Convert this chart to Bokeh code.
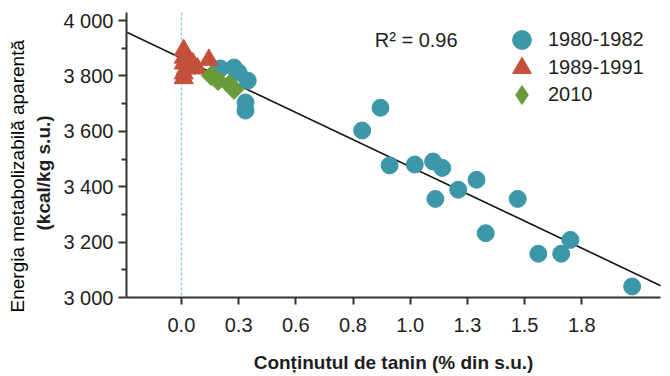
import numpy as np
from bokeh.plotting import figure
from bokeh.models import (Range1d, FixedTicker, Span, Slope, Label, Legend,
                          LegendItem, Title)
from bokeh.embed import file_html
from bokeh.resources import INLINE

# ---------------- data ----------------
tannin_1980 = [0.17, 0.23, 0.25, 0.29, 0.28, 0.28, 0.79, 0.87, 0.91, 1.02, 1.10,
               1.14, 1.11, 1.21, 1.29, 1.47, 1.33, 1.56, 1.66, 1.70, 1.97]
ame_1980 = [3827, 3830, 3812, 3783, 3704, 3675, 3603, 3685, 3477, 3480, 3491,
            3468, 3356, 3389, 3425, 3356, 3232, 3158, 3158, 3208, 3040]

tannin_1989 = [0.01, 0.01, 0.01, 0.02, 0.01, 0.01, 0.05, 0.07, 0.12]
ame_1989 = [3893, 3866, 3845, 3827, 3809, 3792, 3845, 3827, 3858]

tannin_2010 = [0.13, 0.16, 0.21, 0.23]
ame_2010 = [3801, 3783, 3769, 3751]

x_ticks = [0.0, 0.25, 0.5, 0.75, 1.0, 1.25, 1.5, 1.75]
x_tick_labels = ["0.0", "0.3", "0.6", "0.8", "1.0", "1.3", "1.5", "1.8"]
y_ticks = [3000, 3200, 3400, 3600, 3800, 4000]
y_tick_labels = ["3 000", "3 200", "3 400", "3 600", "3 800", "4 000"]
y_minor_ticks = [3100, 3300, 3500, 3700, 3900]

fit_slope = -392
fit_intercept = 3864
r2_text = "R\u00b2 = 0.96"
series_labels = ["1980-1982", "1989-1991", "2010"]

x_label = "Conținutul de tanin (% din s.u.)"
y_label_line1 = "Energia metabolizabilă aparentă"
y_label_line2 = "(kcal/kg s.u.)"

# ---------------- style ----------------
FONT = "Liberation Sans"
TEAL = "#3c97a9"
RED = "#c4503b"
GREEN = "#6a9a3a"
AXIS = "#333333"
TEXT = "#1e1e1e"

p = figure(width=670, height=376,
           x_range=Range1d(-0.240, 2.094), y_range=Range1d(3000, 4029),
           output_backend="svg", toolbar_location=None,
           min_border_left=126, min_border_right=10,
           min_border_top=12, min_border_bottom=79)
p.outline_line_color = None
p.grid.visible = False
p.background_fill_color = "white"

# axes
for ax in (p.xaxis[0], p.yaxis[0]):
    ax.axis_line_color = AXIS
    ax.axis_line_width = 2
    ax.major_tick_line_color = AXIS
    ax.major_tick_line_width = 2
    ax.major_tick_in = 0
    ax.minor_tick_line_color = AXIS
    ax.minor_tick_line_width = 2
    ax.minor_tick_in = 0
    ax.major_label_text_font = FONT
    ax.major_label_text_color = TEXT
    ax.axis_label_text_font = FONT
    ax.axis_label_text_font_style = "bold"
    ax.axis_label_text_color = TEXT

xa = p.xaxis[0]
xa.ticker = FixedTicker(ticks=x_ticks)
xa.major_label_overrides = dict(zip(x_ticks, x_tick_labels))
xa.major_tick_out = 7
xa.minor_tick_out = 0
xa.major_label_text_font_size = "20px"
xa.major_label_standoff = 13
xa.axis_label = x_label
xa.axis_label_text_font_size = "19px"
xa.axis_label_standoff = 17

ya = p.yaxis[0]
ya.ticker = FixedTicker(ticks=y_ticks, minor_ticks=y_minor_ticks)
ya.major_label_overrides = dict(zip(y_ticks, y_tick_labels))
ya.major_tick_out = 8
ya.minor_tick_out = 5
ya.major_label_text_font_size = "20px"
ya.major_label_standoff = 5

# two-line y-axis title as side titles (second line is closest to the axis)
title_line2 = Title(text=y_label_line2, align="left", offset=67,
                    vertical_align="bottom", standoff=14,
                    text_font=FONT, text_font_size="19px",
                    text_font_style="bold", text_color=TEXT)
title_line1 = Title(text=y_label_line1, align="left", offset=-15,
                    vertical_align="bottom", standoff=-8,
                    text_font=FONT, text_font_size="19px",
                    text_font_style="normal", text_color="#000000")
p.add_layout(title_line2, "left")
p.add_layout(title_line1, "left")

# reference line at zero tannin
zero_line = Span(location=0, dimension="height", line_color="#8ecbef",
                 line_width=1.5, line_dash="3 2", level="underlay")
p.add_layout(zero_line)

# regression line
fit = Slope(gradient=fit_slope, y_intercept=fit_intercept,
            line_color="#111111", line_width=1.6, level="underlay")
p.add_layout(fit)

# points
r_teal = p.scatter(tannin_1980, ame_1980, marker="circle", size=17,
                   fill_color=TEAL, line_color=TEAL)
r_red = p.scatter(tannin_1989, ame_1989, marker="triangle", size=19,
                  fill_color=RED, line_color=RED)
r_green = p.scatter(tannin_2010, ame_2010, marker="square", size=14,
                    angle=np.pi / 4, fill_color=GREEN, line_color=GREEN)
# legend-only diamond key (nothing drawn in the plot area)
r_green_key = p.scatter(np.array([np.nan]), np.array([np.nan]), marker="diamond",
                        fill_color=GREEN, line_color=GREEN)

# R^2 label
p.add_layout(Label(x=0.845, y=3928, text=r2_text, text_font=FONT,
                   text_font_size="20px", text_baseline="middle",
                   text_color=TEXT))

# legend: one block per entry so the rows can sit closer than the key size
legend_renderers = [r_teal, r_red, r_green_key]
legend_offsets = [234, 206, 179]
for lab, rend, yoff in zip(series_labels, legend_renderers, legend_offsets):
    lg = Legend(items=[LegendItem(label=lab, renderers=[rend])],
                location=(372, yoff), orientation="vertical",
                glyph_width=47, glyph_height=47,
                padding=0, margin=0, label_standoff=3,
                label_text_font=FONT, label_text_font_size="20px",
                label_text_color=TEXT,
                background_fill_alpha=0, border_line_color=None)
    p.add_layout(lg)

open("out.html", "w").write(file_html(p, INLINE))
